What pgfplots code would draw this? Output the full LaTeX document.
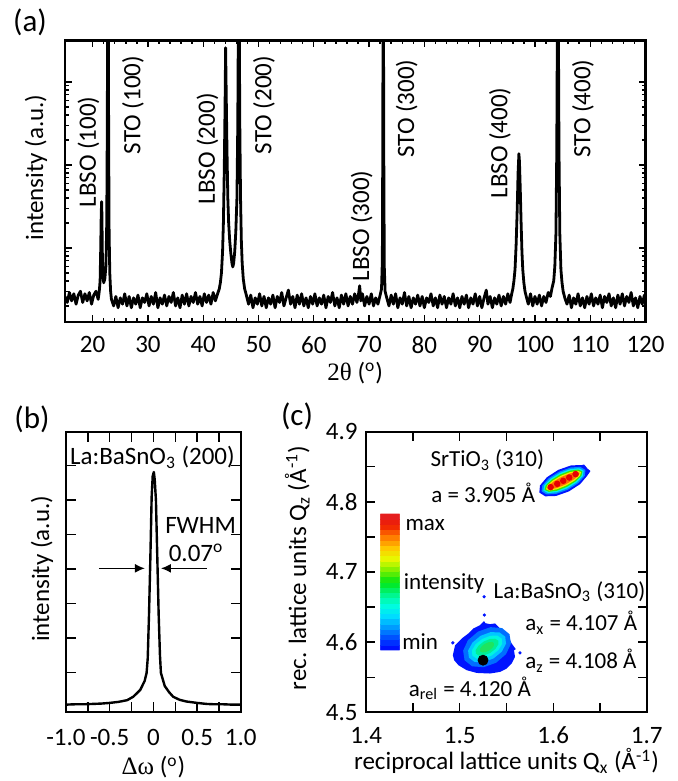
\documentclass[border=0pt]{standalone}
\usepackage{fontspec}
\setmainfont{Carlito}
\newfontfamily\greek{Liberation Serif}
\usepackage{pgfplots}
\pgfplotsset{compat=1.18}
\usetikzlibrary{arrows.meta}

\definecolor{l1}{RGB}{0,20,255}
\definecolor{l2}{RGB}{0,110,255}
\definecolor{l3}{RGB}{0,200,255}
\definecolor{l4}{RGB}{0,245,225}
\definecolor{l5}{RGB}{0,238,150}
\definecolor{l6}{RGB}{30,228,95}
\definecolor{s2}{RGB}{0,140,255}
\definecolor{s3}{RGB}{0,240,240}
\definecolor{s4}{RGB}{60,230,0}
\definecolor{s5}{RGB}{255,230,0}
\definecolor{s6}{RGB}{255,110,0}
\definecolor{s7}{RGB}{230,0,0}

\pgfplotsset{
  panel/.style={
    scale only axis, anchor=south west,
    /pgf/number format/assume math mode=true,
    axis line style={line width=1.1pt},
    tick style={black, line width=0.7pt},
    label style={font=\fontsize{12.5}{15}\selectfont},
    tick label style={font=\fontsize{12.5}{15}\selectfont},
  },
}
\tikzset{note/.style={anchor=base west, inner sep=0pt, font=\fontsize{11.5}{14}\selectfont}}

\begin{document}
\fontsize{12.5}{15}\selectfont
\begin{tikzpicture}
\useasboundingbox (0,0) rectangle (339pt,-390.5pt);

% (a) 2theta-theta scan, log intensity
\begin{axis}[panel,
    at={(32.5pt,-161pt)}, width=290.25pt, height=140.75pt,
    xmin=15, xmax=120, ymode=log, ymin=12.8, ymax=31450,
    xtick={20,30,...,120}, minor x tick num=4,
    xticklabel style={yshift=-3pt},
    yticklabel=\empty,
    major tick length=3.5pt, minor tick length=2pt,
    xlabel={{\greek 2θ} (\textsuperscript{o})},
    xlabel style={at={(axis description cs:0.5,-0.18)}, anchor=center, inner sep=0pt},
    ylabel={intensity (a.u.)},
    ylabel style={at={(axis description cs:-0.05,0.549)}, anchor=center},
]
\addplot[black, line width=1.4pt, line join=round] coordinates {
(15.0,26) (15.4,22) (15.8,29) (16.2,23) (16.6,28) (17.0,21) (17.4,27) (17.8,30) (18.2,22) (18.6,28)
(19.0,23) (19.4,29) (19.8,21) (20.2,27) (20.6,30) (21.0,24) (21.2,30)
(21.35,40) (21.45,90) (21.55,250) (21.62,360) (21.68,250) (21.75,90) (21.85,50) (22.0,38) (22.2,42)
(22.4,60) (22.55,200) (22.65,3000) (22.72,100000) (22.82,100000) (22.9,2000) (22.98,150) (23.1,50) (23.25,30) (23.4,24)
(23.8,20) (24.2,26) (24.6,19) (25.0,25) (25.4,21) (25.8,28) (26.2,20) (26.6,26) (27.0,19) (27.4,25)
(27.8,21) (28.2,27) (28.6,19) (29.0,25) (29.4,22) (29.8,28) (30.2,20) (30.6,26) (31.0,21) (31.4,29)
(31.8,19) (32.2,25) (32.6,21) (33.0,27) (33.4,20) (33.8,26) (34.2,22) (34.6,29) (35.0,20) (35.4,25)
(35.8,19) (36.2,27) (36.6,21) (37.0,28) (37.4,20) (37.8,26) (38.2,22) (38.6,29) (39.0,21) (39.4,26)
(39.8,20) (40.2,28) (40.6,22) (41.0,27) (41.4,21) (41.8,29) (42.2,23) (42.6,28)
(42.9,32) (43.1,38) (43.3,50) (43.5,90) (43.65,200) (43.8,800) (43.95,5000) (44.05,25700) (44.15,8000) (44.3,1500)
(44.45,400) (44.6,200) (44.8,120) (45.0,85) (45.2,65) (45.35,59) (45.5,65) (45.7,90) (45.9,160) (46.1,400)
(46.25,3000) (46.38,100000) (46.5,100000) (46.62,3000) (46.75,400) (46.9,120) (47.05,65) (47.25,42) (47.5,32) (47.8,27)
(48.2,21) (48.6,27) (49.0,19) (49.4,25) (49.8,21) (50.2,28) (50.6,20) (51.0,26) (51.4,19) (51.8,25)
(52.2,21) (52.6,27) (53.0,19) (53.4,26) (53.8,22) (54.2,29) (54.6,20) (55.0,25) (55.4,31) (55.8,21)
(56.2,26) (56.6,19) (57.0,27) (57.4,21) (57.8,28) (58.2,20) (58.6,25) (59.0,19) (59.4,26) (59.8,21)
(60.2,28) (60.6,20) (61.0,25) (61.4,21) (61.8,27) (62.2,19) (62.6,26) (63.0,22) (63.4,29) (63.8,20)
(64.2,25) (64.6,19) (65.0,27) (65.4,21) (65.8,28) (66.2,20) (66.6,26) (67.0,21) (67.4,28) (67.8,22)
(68.1,28) (68.3,35) (68.5,23) (68.8,28) (69.2,20) (69.6,26) (70.0,21) (70.4,28) (70.8,20) (71.2,25)
(71.6,21) (72.0,27) (72.25,32) (72.4,70) (72.48,2000) (72.53,100000) (72.6,100000) (72.66,1500) (72.75,60) (72.9,30)
(73.2,25) (73.6,20) (74.0,27) (74.4,21) (74.8,28) (75.2,19) (75.6,25) (76.0,21) (76.4,29) (76.8,20)
(77.2,26) (77.6,19) (78.0,25) (78.4,21) (78.8,27) (79.2,20) (79.6,26) (80.0,19) (80.4,25) (80.8,22)
(81.2,28) (81.6,20) (82.0,25) (82.4,19) (82.8,27) (83.2,21) (83.6,26) (84.0,19) (84.4,25) (84.8,21)
(85.2,28) (85.6,20) (86.0,25) (86.4,19) (86.8,26) (87.2,21) (87.6,27) (88.0,19) (88.4,25) (88.8,21)
(89.2,28) (89.6,20) (90.0,26) (90.4,19) (90.8,25) (91.2,31) (91.5,21) (91.9,26) (92.3,19) (92.7,25)
(93.1,21) (93.5,27) (93.9,20) (94.3,26) (94.7,21) (95.1,28) (95.5,22) (95.8,28)
(96.0,32) (96.2,40) (96.4,55) (96.6,110) (96.8,300) (96.95,800) (97.1,1360) (97.2,1100) (97.35,500) (97.5,200)
(97.65,90) (97.8,55) (98.0,38) (98.2,30) (98.5,25)
(98.8,21) (99.2,28) (99.6,20) (100.0,26) (100.4,21) (100.8,27) (101.2,20) (101.6,26) (102.0,22) (102.4,29)
(102.8,26) (103.1,33) (103.4,40) (103.6,60) (103.8,150) (103.95,1500) (104.08,100000) (104.22,100000) (104.35,1500) (104.5,150)
(104.7,55) (104.9,38) (105.1,30) (105.4,25) (105.8,21) (106.2,27) (106.6,19) (107.0,25) (107.4,21) (107.8,28)
(108.2,20) (108.6,25) (109.0,19) (109.4,26) (109.8,21) (110.2,28) (110.6,20) (111.0,25) (111.4,21) (111.8,27)
(112.2,19) (112.6,26) (113.0,22) (113.4,28) (113.8,20) (114.2,25) (114.6,19) (115.0,27) (115.4,21) (115.8,28)
(116.2,20) (116.6,26) (117.0,22) (117.4,29) (117.8,20) (118.2,25) (118.6,19) (119.0,26) (119.4,21) (119.8,27)
(120.0,23)
};
\node[rotate=90] at (rel axis cs:0.0405,0.604) {LBSO (100)};
\node[rotate=90] at (rel axis cs:0.1171,0.771) {STO (100)};
\node[rotate=90] at (rel axis cs:0.2455,0.615) {LBSO (200)};
\node[rotate=90] at (rel axis cs:0.3428,0.771) {STO (200)};
\node[rotate=90] at (rel axis cs:0.5111,0.341) {LBSO (300)};
\node[rotate=90] at (rel axis cs:0.5886,0.758) {STO (300)};
\node[rotate=90] at (rel axis cs:0.7494,0.636) {LBSO (400)};
\node[rotate=90] at (rel axis cs:0.8923,0.758) {STO (400)};
\end{axis}

% (b) rocking curve
\begin{axis}[panel,
    at={(33pt,-356.15pt)}, width=87.4pt, height=140.3pt,
    xmin=-1, xmax=1, ymin=-0.163, ymax=7.99,
    xtick={-1,-0.5,0,0.5,1}, xticklabels={-1.0,-0.5,0,0.5,1.0},
    xticklabel style={yshift=-4pt},
    minor x tick num=1,
    ytick={1,2,3,4,5,6,7}, yticklabel=\empty,
    major tick length=5pt, minor tick length=5pt,
    xlabel={{\greek Δω} (\textsuperscript{o})},
    xlabel style={at={(axis description cs:0.5,-0.196)}, anchor=center},
    ylabel={intensity (a.u.)},
    ylabel style={at={(axis description cs:-0.137,0.511)}, anchor=center},
]
\addplot[black, line width=1.2pt, line join=round] coordinates {
(-1.0,0.06) (-0.9,0.07) (-0.8,0.07) (-0.7,0.08) (-0.6,0.09) (-0.5,0.11) (-0.4,0.14) (-0.3,0.19)
(-0.23,0.29) (-0.15,0.49) (-0.1,0.75) (-0.078,0.98) (-0.065,1.4) (-0.05,2.7) (-0.035,4.3) (-0.02,6.1)
(-0.008,6.7) (0.005,6.82) (0.015,6.6) (0.029,6.0) (0.045,4.3) (0.06,2.7) (0.075,1.5) (0.086,0.98)
(0.13,0.6) (0.18,0.42) (0.226,0.29) (0.3,0.2) (0.38,0.15) (0.5,0.11) (0.61,0.08) (0.7,0.07)
(0.8,0.07) (0.9,0.06) (1.0,0.06)
};
\addplot[black, line width=0.8pt, -{Latex[length=5pt,width=4.5pt]}] coordinates {(-0.623,4.02) (-0.097,4.02)};
\addplot[black, line width=0.8pt, -{Latex[length=5pt,width=4.5pt]}] coordinates {(0.611,4.02) (0.086,4.02)};
\node[anchor=base] at (axis cs:-0.011,7.03) {La:BaSnO\textsubscript{3} (200)};
\node[anchor=base] at (axis cs:0.54,5.04) {FWHM};
\node[anchor=base] at (axis cs:0.488,4.215) {0.07\textsuperscript{o}};
\end{axis}

% (c) reciprocal space map
\begin{axis}[panel,
    at={(183.15pt,-356.15pt)}, width=140.2pt, height=140.3pt,
    xmin=1.4, xmax=1.7, ymin=4.5, ymax=4.9,
    xtick={1.4,1.5,1.6,1.7}, xticklabels={1.4,1.5,1.6,1.7}, minor x tick num=1,
    xticklabel style={yshift=-3pt},
    ytick={4.5,4.6,4.7,4.8,4.9}, yticklabels={4.5,4.6,4.7,4.8,4.9}, minor y tick num=1,
    major tick length=4.5pt, minor tick length=4.5pt,
    clip mode=individual,
    xlabel={reciprocal lattice units Q\textsubscript{x} (Å\textsuperscript{-1})},
    xlabel style={at={(axis description cs:0.5,-0.175)}, anchor=center},
    ylabel={rec. lattice units Q\textsubscript{z} (Å\textsuperscript{-1})},
    ylabel style={at={(axis description cs:-0.246,0.514)}, anchor=center},
    colormap={rsm}{rgb255=(0,0,255) rgb255=(0,70,255) rgb255=(0,150,255) rgb255=(0,220,255)
      rgb255=(0,255,220) rgb255=(0,245,130) rgb255=(0,230,20) rgb255=(120,240,0)
      rgb255=(230,250,0) rgb255=(255,200,0) rgb255=(255,120,0) rgb255=(240,30,0) rgb255=(225,30,40)},
    colorbar sampled,
    point meta min=0, point meta max=1,
    colorbar shift/.style={},
    colorbar style={at={(parent axis.south west)}, anchor=south west,
      xshift=7pt, yshift=31pt, scale only axis, width=9.65pt, height=68.3pt,
      samples=27, ytick=\empty, xtick=\empty,
      axis line style={draw=none}, tick style={draw=none}},
]
% SrTiO3 (310) contours
\addplot[fill=l1, draw=none] coordinates {
(1.6369,4.8471) (1.6330,4.8532) (1.6306,4.8525) (1.6191,4.8520) (1.6054,4.8456) (1.5932,4.8351)
(1.5858,4.8233) (1.5851,4.8133) (1.5914,4.8079) (1.6029,4.8084) (1.6166,4.8148) (1.6288,4.8253)
(1.6363,4.8371) (1.6398,4.8440)} -- cycle;
\addplot[fill=s2, draw=none] coordinates {
(1.6345,4.8455) (1.6290,4.8499) (1.6187,4.8490) (1.6063,4.8430) (1.5952,4.8337) (1.5883,4.8234)
(1.5875,4.8149) (1.5930,4.8105) (1.6033,4.8114) (1.6157,4.8174) (1.6268,4.8267) (1.6337,4.8370)} -- cycle;
\addplot[fill=s3, draw=none] coordinates {
(1.6326,4.8443) (1.6277,4.8479) (1.6184,4.8467) (1.6070,4.8411) (1.5968,4.8326) (1.5903,4.8235)
(1.5894,4.8161) (1.5943,4.8125) (1.6036,4.8137) (1.6150,4.8193) (1.6252,4.8278) (1.6317,4.8369)} -- cycle;
\addplot[fill=s4, draw=none] coordinates {
(1.6312,4.8433) (1.6268,4.8461) (1.6182,4.8446) (1.6077,4.8392) (1.5981,4.8314) (1.5919,4.8233)
(1.5908,4.8171) (1.5952,4.8143) (1.6038,4.8158) (1.6143,4.8212) (1.6239,4.8290) (1.6301,4.8371)} -- cycle;
\addplot[fill=s5, draw=none] coordinates {
(1.6297,4.8424) (1.6259,4.8443) (1.6181,4.8424) (1.6084,4.8373) (1.5994,4.8302) (1.5935,4.8232)
(1.5923,4.8180) (1.5961,4.8161) (1.6039,4.8180) (1.6136,4.8231) (1.6226,4.8302) (1.6285,4.8372)} -- cycle;
\addplot[fill=s6, draw=none] coordinates {
(1.6283,4.8415) (1.6250,4.8426) (1.6179,4.8405) (1.6090,4.8356) (1.6007,4.8292) (1.5951,4.8232)
(1.5937,4.8189) (1.5970,4.8178) (1.6041,4.8199) (1.6130,4.8248) (1.6213,4.8312) (1.6269,4.8372)} -- cycle;
\addplot[only marks, mark=*, mark size=1.4pt, s7, mark options={draw=none}] coordinates {
(1.5972,4.8210) (1.6043,4.8257) (1.6107,4.8300) (1.6171,4.8347) (1.6239,4.8396)};

% La:BaSnO3 (310) contours
\addplot[fill=l1, draw=none] coordinates {
(1.4926,4.5814) (1.4950,4.5957) (1.5022,4.6053) (1.5092,4.6124) (1.5146,4.6196) (1.5217,4.6243)
(1.5260,4.6300) (1.5275,4.6270) (1.5324,4.6257) (1.5377,4.6267) (1.5431,4.6196) (1.5484,4.6147)
(1.5519,4.6076) (1.5555,4.5981) (1.5600,4.5900) (1.5580,4.5886) (1.5591,4.5790) (1.5555,4.5696)
(1.5502,4.5624) (1.5431,4.5576) (1.5324,4.5553) (1.5182,4.5561) (1.5075,4.5600) (1.4986,4.5671)
(1.4940,4.5743)} -- cycle;
\addplot[fill=l2, draw=none] coordinates {
(1.5532,4.6114) (1.5452,4.6201) (1.5329,4.6214) (1.5196,4.6151) (1.5088,4.6029) (1.5036,4.5879)
(1.5051,4.5743) (1.5132,4.5656) (1.5255,4.5643) (1.5388,4.5706) (1.5495,4.5829) (1.5548,4.5978)} -- cycle;
\addplot[fill=l3, draw=none] coordinates {
(1.5486,4.6079) (1.5425,4.6139) (1.5329,4.6143) (1.5222,4.6090) (1.5135,4.5993) (1.5089,4.5879)
(1.5098,4.5779) (1.5158,4.5718) (1.5255,4.5714) (1.5361,4.5768) (1.5449,4.5864) (1.5495,4.5978)} -- cycle;
\addplot[fill=l4, draw=none] coordinates {
(1.5449,4.6050) (1.5403,4.6093) (1.5327,4.6091) (1.5241,4.6046) (1.5169,4.5970) (1.5130,4.5882)
(1.5135,4.5807) (1.5181,4.5765) (1.5257,4.5766) (1.5343,4.5811) (1.5414,4.5888) (1.5453,4.5975)} -- cycle;
\addplot[fill=l5, draw=none] coordinates {
(1.5412,4.6022) (1.5379,4.6049) (1.5322,4.6045) (1.5257,4.6009) (1.5202,4.5952) (1.5170,4.5888)
(1.5172,4.5836) (1.5205,4.5808) (1.5262,4.5813) (1.5327,4.5848) (1.5382,4.5905) (1.5413,4.5969)} -- cycle;
\addplot[fill=l6, draw=none] coordinates {
(1.5366,4.5986) (1.5345,4.6003) (1.5310,4.6000) (1.5270,4.5978) (1.5236,4.5943) (1.5217,4.5904)
(1.5218,4.5871) (1.5238,4.5855) (1.5273,4.5857) (1.5313,4.5879) (1.5347,4.5915) (1.5366,4.5954)} -- cycle;
\addplot[only marks, mark=*, mark size=0.6pt, l1, mark options={draw=none}] coordinates {
(1.4926,4.5990) (1.5644,4.5847) (1.5263,4.6386) (1.5260,4.6647)};
\addplot[only marks, mark=*, mark size=2.5pt, black] coordinates {(1.5249,4.5743)};

\node[note] at (axis cs:1.4683,4.8504) {SrTiO\textsubscript{3} (310)};
\node[note] at (axis cs:1.4691,4.7990) {a = 3.905 Å};
\node[note] at (axis cs:1.5359,4.6624) {La:BaSnO\textsubscript{3} (310)};
\node[note] at (axis cs:1.5697,4.6161) {a\textsubscript{x} = 4.107 Å};
\node[note] at (axis cs:1.5697,4.5624) {a\textsubscript{z} = 4.108 Å};
\node[note] at (axis cs:1.4452,4.5229) {a\textsubscript{rel} = 4.120 Å};
\node[note, anchor=west] at (axis cs:1.4416,4.7671) {max};
\node[note, anchor=west] at (axis cs:1.4398,4.6843) {intensity};
\node[note, anchor=west] at (axis cs:1.4381,4.6014) {min};
\end{axis}

\node[font=\fontsize{15.5}{18}\selectfont] at (15pt,-11pt) {(a)};
\node[font=\fontsize{15.5}{18}\selectfont] at (16pt,-209.5pt) {(b)};
\node[font=\fontsize{15.5}{18}\selectfont] at (148.5pt,-208pt) {(c)};
\end{tikzpicture}
\end{document}
